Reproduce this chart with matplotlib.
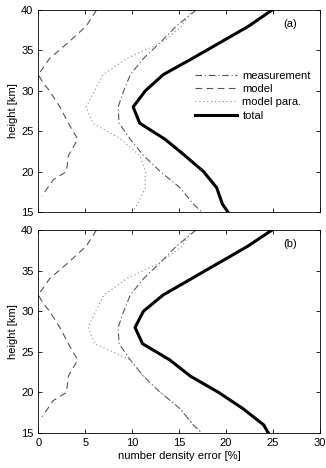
import matplotlib
matplotlib.use("Agg")
import matplotlib.pyplot as plt

plt.rcParams['font.family'] = ['Liberation Sans', 'DejaVu Sans']

height = [40, 38, 36, 34, 32, 30, 28, 26, 24, 22, 20, 18, 16, 15]

meas_a = [16.8, 14.7, 13.0, 11.2, 9.8, 9.1, 8.5, 8.6, 9.8, 11.2, 13.0, 15.1, 16.5, 17.4]
total_a = [24.9, 22.4, 19.4, 16.4, 13.3, 11.4, 10.1, 10.8, 13.5, 15.6, 17.6, 19.0, 19.6, 20.2]
para_a = [16.4, 15.3, 13.2, 9.4, 6.9, 6.0, 5.1, 5.8, 8.8, 10.8, 11.4, 11.4, 10.6, 10.0]

meas_b = [16.8, 14.7, 13.0, 11.2, 9.8, 9.1, 8.5, 8.6, 9.8, 11.2, 13.0, 15.1, 16.5, 17.4]
total_b = [24.9, 22.3, 19.3, 16.3, 13.3, 11.2, 10.3, 11.1, 14.0, 16.2, 19.2, 21.8, 24.0, 24.5]
para_b = [16.4, 15.3, 13.0, 9.4, 7.0, 6.1, 5.3, 6.0, 9.8, 11.2, 13.0, 15.1, 16.5, 17.4]

model_h = [40, 38, 36, 34, 32, 31, 30, 28, 26, 24, 22, 20, 19, 17]
model = [6.2, 5.1, 3.2, 1.2, 0.0, 0.5, 1.2, 2.3, 3.2, 4.2, 3.2, 3.0, 1.6, 0.4]

xticks = [0, 5, 10, 15, 20, 25, 30]
yticks = [15, 20, 25, 30, 35, 40]

fig = plt.figure(figsize=(3.26, 4.68), dpi=100)
ax1 = fig.add_axes([0.1175, 0.547, 0.864, 0.4316])
ax2 = fig.add_axes([0.1175, 0.0748, 0.864, 0.4337])

panels = [(ax1, meas_a, para_a, total_a, '(a)'), (ax2, meas_b, para_b, total_b, '(b)')]
for ax, meas, para, total, lab in panels:
    ax.plot(meas, height, color='#555555', lw=0.8, dashes=(6, 2.5, 1, 2.5), label='measurement')
    ax.plot(model, model_h, color='#555555', lw=0.8, dashes=(6, 4), label='model')
    ax.plot(para, height, color='#888888', lw=0.8, dashes=(1, 2.5), label='model para.')
    ax.plot(total, height, color='black', lw=2.2, label='total')
    ax.set_xlim(0, 30)
    ax.set_ylim(15, 40)
    ax.set_xticks(xticks)
    ax.set_yticks(yticks)
    ax.tick_params(direction='in', top=True, right=True, labelsize=8, length=3, width=0.6)
    for s in ax.spines.values():
        s.set_linewidth(0.6)
    ax.set_ylabel('height [km]', fontsize=8, labelpad=2)
    ax.text(0.895, 0.93, lab, transform=ax.transAxes, fontsize=8, ha='center', va='center')

ax1.tick_params(labelbottom=False)
ax2.set_xlabel('number density error [%]', fontsize=8, labelpad=2)

ax1.legend(loc='upper left', bbox_to_anchor=(0.555, 0.70), frameon=False, fontsize=8,
           handlelength=3.8, handletextpad=0.5, labelspacing=0.3, borderpad=0, borderaxespad=0)

fig.savefig('out.png', dpi=100)
